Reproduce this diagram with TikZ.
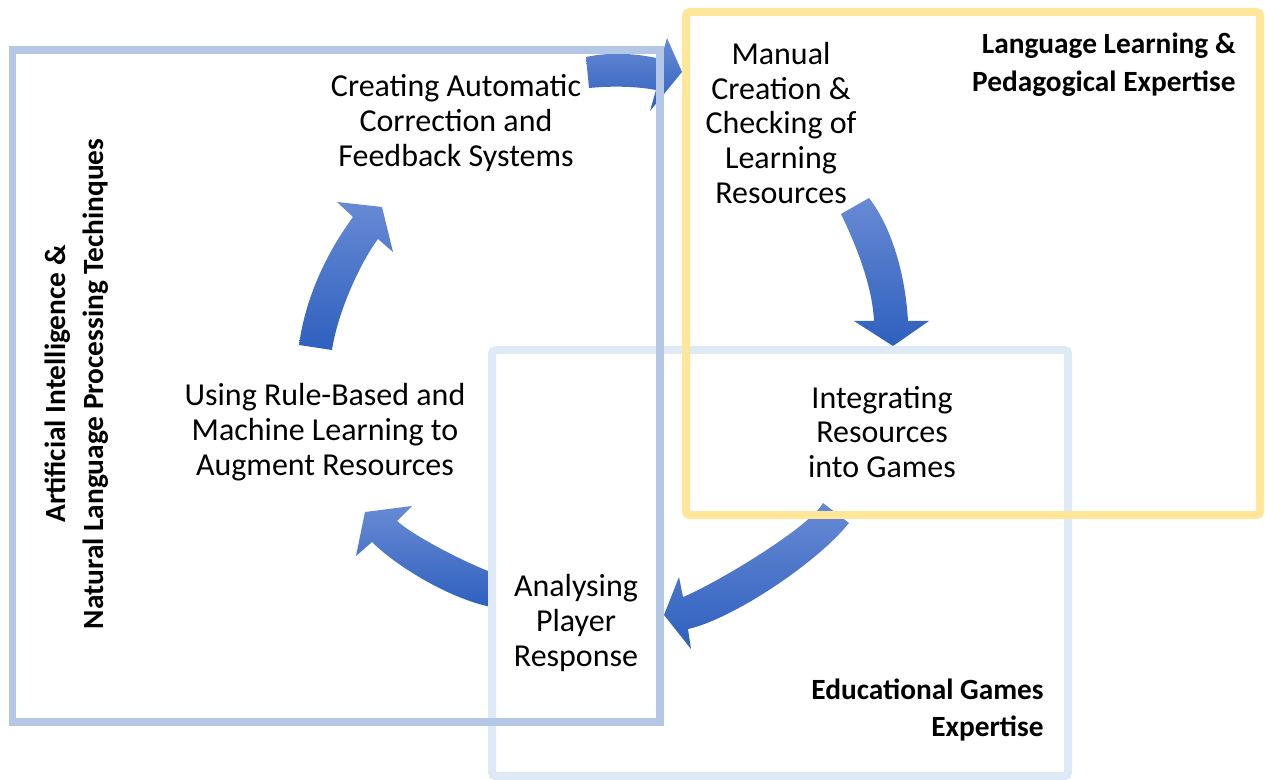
\documentclass[tikz,border=0pt]{standalone}
\usepackage{fontspec}
\setmainfont{Carlito}
\definecolor{aiblue}{RGB}{180,199,231}
\definecolor{langyellow}{RGB}{255,230,153}
\definecolor{gamesblue}{RGB}{222,235,247}
\definecolor{arrtop}{RGB}{104,138,212}
\definecolor{arrbot}{RGB}{46,96,190}
\tikzset{
  arr/.style={draw=none, top color=arrtop, bottom color=arrbot},
  framebox/.style={line width=0.16cm},
  lbl/.style={align=center, inner sep=0pt, font=\fontsize{18.2}{19.84}\selectfont},
  bl/.style={inner sep=0pt, font=\bfseries\fontsize{16.7}{21.5}\selectfont}
}
\begin{document}
\begin{tikzpicture}[x=0.02cm,y=-0.02cm]
\useasboundingbox (0,0) rectangle (1265,780);
% arrows
\path[arr] (586,57) .. controls (610,52) and (635,53) .. (661,59) -- (667,38) -- (682,72) -- (650,111) -- (656,90) .. controls (635,86) and (610,86) .. (589,88) -- cycle;
\path[arr] (841,214) .. controls (851,235) and (872,280) .. (874,321) -- (854,321) -- (893,346) -- (929,321) -- (908,321) .. controls (905,270) and (890,225) .. (869,198) -- cycle;
\path[arr] (823,503) .. controls (808,529) and (711,586) .. (683,597) -- (679,577) -- (664,615) -- (691,649) -- (688,629) .. controls (730,620) and (815,565) .. (849,523) -- cycle;
\path[arr] (496,574) .. controls (470,565) and (415,537) .. (397,521) -- (412,506) -- (365,512) -- (356,556) -- (372,542) .. controls (395,565) and (450,600) .. (496,608) -- cycle;
\path[arr] (299,345) .. controls (305,300) and (325,255) .. (353,217) -- (337,202) -- (382,207) -- (393,252) -- (378,239) .. controls (362,260) and (338,310) .. (332,350) -- cycle;
% frames
\draw[framebox, draw=gamesblue, rounded corners=2pt] (492,350) rectangle (1068,776);
\draw[framebox, draw=aiblue] (12.5,50) rectangle (660,722);
\draw[framebox, draw=langyellow, rounded corners=2pt] (686,12) rectangle (1260,515);
% texts
\node[lbl] (create) at (456,123) {Creating Automatic\\Correction and\\Feedback Systems};
\node[lbl] (manual) at (781,123) {Manual\\Creation \&\\Checking of\\Learning\\Resources};
\node[lbl] (integ) at (882,432) {Integrating\\Resources\\into Games};
\node[lbl] (analyse) at (576,623) {Analysing\\Player\\Response};
\node[lbl] (using) at (325,432) {Using Rule-Based and\\Machine Learning to\\Augment Resources};
\node[bl, align=right, anchor=east] (lang) at (1236,65) {Language Learning \&\\Pedagogical Expertise};
\node[bl, align=right, anchor=east] (games) at (1044,710) {Educational Games\\Expertise};
\node[bl, align=center, rotate=90] (ai) at (77,384) {Artificial Intelligence \&\\Natural Language Processing Techinques};
\end{tikzpicture}
\end{document}
